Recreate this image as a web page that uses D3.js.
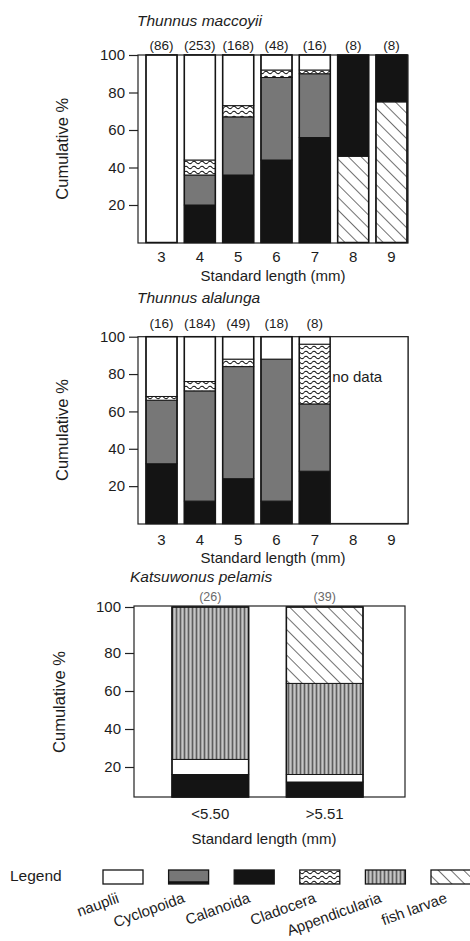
<!DOCTYPE html>
<html>
<head>
<meta charset="utf-8">
<script src="https://cdn.jsdelivr.net/npm/d3@7"></script>
<style>
  body { margin: 0; background: #fff; }
  svg { display: block; }
  text { font-family: "Liberation Sans", Arial, Helvetica, sans-serif; fill: #1c1c1c; }
</style>
</head>
<body>
<svg id="chart" width="470" height="941"></svg>
<script>
// ---- data -------------------------------------------------------------
const lengthClasses = ["3", "4", "5", "6", "7", "8", "9"];
const skipjackClasses = ["<5.50", ">5.51"];
const preyGroups = ["nauplii", "Cyclopoida", "Calanoida", "Cladocera", "Appendicularia", "fish larvae"];
const yTicks = [20, 40, 60, 80, 100];

// Stomach contents, cumulative from the bottom: [prey group, % of items]
const maccoyiiCounts = ["(86)", "(253)", "(168)", "(48)", "(16)", "(8)", "(8)"];
const maccoyiiDiet = [
  [["nauplii", 100]],
  [["Calanoida", 20], ["Cyclopoida", 16], ["Cladocera", 8], ["nauplii", 56]],
  [["Calanoida", 36], ["Cyclopoida", 31], ["Cladocera", 6], ["nauplii", 27]],
  [["Calanoida", 44], ["Cyclopoida", 44], ["Cladocera", 4], ["nauplii", 8]],
  [["Calanoida", 56], ["Cyclopoida", 34], ["Cladocera", 2], ["nauplii", 8]],
  [["fish larvae", 46], ["Calanoida", 54]],
  [["fish larvae", 75], ["Calanoida", 25]]
];

const alalungaCounts = ["(16)", "(184)", "(49)", "(18)", "(8)"];
const alalungaDiet = [
  [["Calanoida", 32], ["Cyclopoida", 34], ["Cladocera", 2], ["nauplii", 32]],
  [["Calanoida", 12], ["Cyclopoida", 59], ["Cladocera", 5], ["nauplii", 24]],
  [["Calanoida", 24], ["Cyclopoida", 60], ["Cladocera", 4], ["nauplii", 12]],
  [["Calanoida", 12], ["Cyclopoida", 76], ["nauplii", 12]],
  [["Calanoida", 28], ["Cyclopoida", 36], ["Cladocera", 32], ["nauplii", 4]]
];
const alalungaMissing = ["8", "9"];

const pelamisCounts = ["(26)", "(39)"];
const pelamisDiet = [
  [["Calanoida", 15], ["nauplii", 9], ["Appendicularia", 76]],
  [["Calanoida", 10], ["nauplii", 5], ["Appendicularia", 49], ["fish larvae", 36]]
];
// the printed Katsuwonus axis is not evenly spaced
const pelamisAxisStops = [0, 20, 80, 100];

// ---- drawing ----------------------------------------------------------
const svg = d3.select("#chart");
svg.append("rect").attr("width", 470).attr("height", 941).attr("fill", "#fff");

const defs = svg.append("defs");

// Cladocera: wavy lines
const wave = defs.append("pattern").attr("id", "p-wave")
  .attr("patternUnits", "userSpaceOnUse").attr("width", 8).attr("height", 5);
wave.append("rect").attr("width", 8).attr("height", 5).attr("fill", "#fff");
wave.append("path").attr("d", "M0,2.5 Q2,0 4,2.5 Q6,5 8,2.5")
  .attr("fill", "none").attr("stroke", "#111").attr("stroke-width", 1.1);

// Appendicularia: fine vertical lines on grey
const vert = defs.append("pattern").attr("id", "p-vert")
  .attr("patternUnits", "userSpaceOnUse").attr("width", 4).attr("height", 4);
vert.append("rect").attr("width", 4).attr("height", 4).attr("fill", "#a2a2a2");
vert.append("rect").attr("x", 0).attr("width", 1).attr("height", 4).attr("fill", "#5e5e5e");
vert.append("rect").attr("x", 2.3).attr("width", 0.7).attr("height", 4).attr("fill", "#d6d6d6");

// fish larvae: diagonal hatching
const hatch = defs.append("pattern").attr("id", "p-hatch")
  .attr("patternUnits", "userSpaceOnUse").attr("width", 9).attr("height", 9)
  .attr("patternTransform", "rotate(-45)");
hatch.append("rect").attr("width", 9).attr("height", 9).attr("fill", "#fff");
hatch.append("line").attr("x1", 0).attr("y1", 0).attr("x2", 0).attr("y2", 9)
  .attr("stroke", "#111").attr("stroke-width", 1.2);

const fillFor = {
  "nauplii": "#ffffff",
  "Cyclopoida": "#777777",
  "Calanoida": "#141414",
  "Cladocera": "url(#p-wave)",
  "Appendicularia": "url(#p-vert)",
  "fish larvae": "url(#p-hatch)"
};

function stacked(diet) {
  let acc = 0;
  return diet.map(([group, pct]) => {
    const s = { group, y0: acc, y1: acc + pct };
    acc += pct;
    return s;
  });
}

function panel(opt) {
  const g = svg.append("g");
  const { x, y, frame } = opt;

  // title
  g.append("text").attr("x", opt.titleX).attr("y", opt.titleY)
    .attr("font-size", 15.5).attr("font-style", "italic").text(opt.title);

  // frame
  g.append("rect").attr("x", frame[0]).attr("y", frame[1])
    .attr("width", frame[2] - frame[0]).attr("height", frame[3] - frame[1])
    .attr("fill", "#fff").attr("stroke", "#222").attr("stroke-width", 1.2);

  // bars
  opt.diet.forEach((diet, i) => {
    const cat = x.domain()[i];
    const bg = g.append("g");
    const segs = stacked(diet);
    bg.selectAll("rect.seg").data(segs).join("rect")
      .attr("class", "seg")
      .attr("x", x(cat)).attr("width", x.bandwidth())
      .attr("y", d => y(d.y1)).attr("height", d => y(d.y0) - y(d.y1))
      .attr("fill", d => fillFor[d.group])
      .attr("stroke", "#151515").attr("stroke-width", 1);
    bg.append("rect")
      .attr("x", x(cat)).attr("width", x.bandwidth())
      .attr("y", y(100)).attr("height", y(0) - y(100))
      .attr("fill", "none").attr("stroke", "#151515").attr("stroke-width", 1.5);
  });

  // sample sizes
  g.selectAll("text.n").data(opt.counts).join("text")
    .attr("class", "n")
    .attr("x", (d, i) => x(x.domain()[i]) + x.bandwidth() / 2)
    .attr("y", opt.countY)
    .attr("text-anchor", "middle")
    .attr("font-size", opt.countSize || 13.5)
    .style("fill", opt.countColor || "#1c1c1c")
    .text(d => d);

  // y axis
  const ya = g.append("g").attr("transform", `translate(${frame[0]},0)`)
    .call(d3.axisLeft(y).tickValues(yTicks).tickSize(9).tickPadding(4));
  ya.select(".domain").remove();
  ya.selectAll("line").attr("stroke", "#222").attr("stroke-width", 1.2);
  ya.selectAll("text").attr("font-size", 15).attr("font-family", null).style("fill", "#1c1c1c");

  g.append("text")
    .attr("transform", `translate(${opt.yLabelX},${(y(0) + y(100)) / 2 + opt.yLabelShift}) rotate(-90)`)
    .attr("text-anchor", "middle").attr("font-size", 16.5).text("Cumulative %");

  // x axis labels
  const xa = g.append("g").attr("transform", `translate(0,${opt.xLabelY})`)
    .call(d3.axisBottom(x).tickSize(0).tickPadding(0));
  xa.select(".domain").remove();
  xa.selectAll("text").attr("font-size", 15).attr("font-family", null)
    .attr("dy", 0).style("fill", "#1c1c1c");

  g.append("text").attr("x", opt.xTitleX).attr("y", opt.xTitleY)
    .attr("text-anchor", "middle").attr("font-size", 15).text("Standard length (mm)");
  return g;
}

// Thunnus maccoyii
const x1 = d3.scaleBand().domain(lengthClasses).range([146, 407]).paddingInner(0.19);
const y1 = d3.scaleLinear().domain([0, 100]).range([242.5, 55]);
panel({
  title: "Thunnus maccoyii", titleX: 137, titleY: 26,
  x: x1, y: y1, frame: [138, 55, 408, 243],
  diet: maccoyiiDiet, counts: maccoyiiCounts, countY: 50,
  yLabelX: 68, yLabelShift: 0,
  xLabelY: 262, xTitleX: 273, xTitleY: 281
});

// Thunnus alalunga
const y2 = d3.scaleLinear().domain([0, 100]).range([523.5, 336.7]);
const p2 = panel({
  title: "Thunnus alalunga", titleX: 137, titleY: 303,
  x: x1, y: y2, frame: [138, 336.7, 408, 524],
  diet: alalungaDiet, counts: alalungaCounts, countY: 328,
  yLabelX: 68, yLabelShift: 0,
  xLabelY: 545, xTitleX: 273, xTitleY: 563
});
const gapW = x1.step() - x1.bandwidth();
p2.append("rect")
  .attr("x", x1(alalungaMissing[0]) - gapW).attr("y", y2(100))
  .attr("width", 408 - (x1(alalungaMissing[0]) - gapW)).attr("height", y2(0) - y2(100))
  .attr("fill", "#fff").attr("stroke", "#222").attr("stroke-width", 1.2);
p2.append("text")
  .attr("x", x1(alalungaMissing[0]) + x1.bandwidth() / 2 + 4).attr("y", y2(80) + 8)
  .attr("text-anchor", "middle").attr("font-size", 15).text("no data");

// Katsuwonus pelamis
const x3 = d3.scaleBand().domain(skipjackClasses).range([172, 363]).paddingInner(0.33);
const y3 = d3.scaleLinear().domain(pelamisAxisStops).range([797, 767, 653, 607]);
panel({
  title: "Katsuwonus pelamis", titleX: 130, titleY: 582,
  x: x3, y: y3, frame: [134, 606, 405, 797],
  diet: pelamisDiet, counts: pelamisCounts, countY: 601, countSize: 12.5, countColor: "#6a6a6a",
  yLabelX: 65, yLabelShift: 0,
  xLabelY: 819, xTitleX: 264, xTitleY: 844
});

// ---- legend -----------------------------------------------------------
const legend = svg.append("g");
legend.append("text").attr("x", 10).attr("y", 881).attr("font-size", 15.5).text("Legend");
const lx = d3.scalePoint().domain(preyGroups).range([123, 451]);
const items = legend.selectAll("g.item").data(preyGroups).join("g").attr("class", "item");
items.append("rect")
  .attr("x", d => lx(d) - 20).attr("y", 870).attr("width", 40).attr("height", 14)
  .attr("fill", d => fillFor[d]).attr("stroke", "#151515").attr("stroke-width", 1.3);
items.filter(d => d === "Cyclopoida").append("line")
  .attr("x1", d => lx(d) - 20).attr("x2", d => lx(d) + 20)
  .attr("y1", 882.5).attr("y2", 882.5).attr("stroke", "#111").attr("stroke-width", 2.5);
items.append("text")
  .attr("transform", d => `translate(${lx(d) - 3},902) rotate(-20)`)
  .attr("text-anchor", "end").attr("font-size", 15).text(d => d);
</script>
</body>
</html>
